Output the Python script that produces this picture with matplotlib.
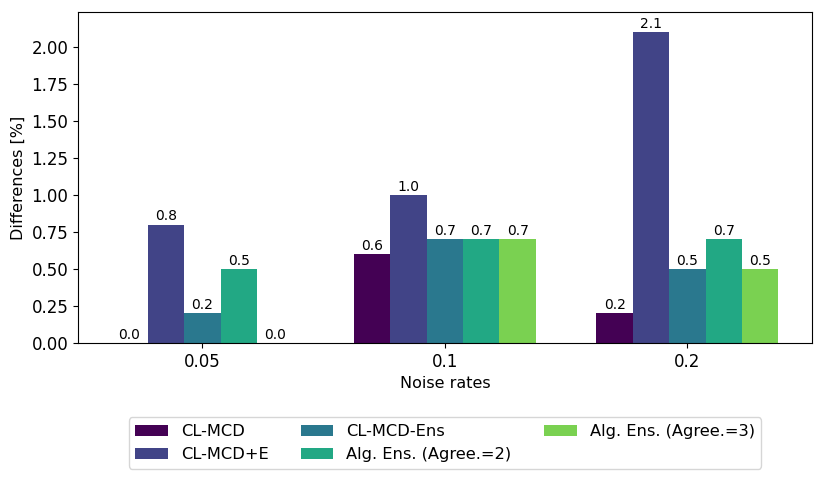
import numpy as np
import matplotlib
matplotlib.use("Agg")
import matplotlib.pyplot as plt

# 데이터
noise_rates = ["0.05", "0.1", "0.2"]
methods = ["CL-MCD", "CL-MCD+E", "CL-MCD-Ens",
           "Alg. Ens. (Agree.=2)", "Alg. Ens. (Agree.=3)"]
cl_mcd = [0.0, 0.6, 0.2]
cl_mcd_e = [0.8, 1.0, 2.1]
cl_mcd_ens = [0.2, 0.7, 0.5]
alg_ens_2 = [0.5, 0.7, 0.7]
alg_ens_3 = [0.0, 0.7, 0.5]
series = [cl_mcd, cl_mcd_e, cl_mcd_ens, alg_ens_2, alg_ens_3]

colors = ["#440154", "#414487", "#2a788e", "#22a884", "#7ad151"]

fig = plt.figure(figsize=(8.3, 4.98), dpi=100)
ax = fig.add_axes([0.094, 0.311, 0.884, 0.665])

x = np.arange(len(noise_rates))
width = 0.15
for i, (name, vals) in enumerate(zip(methods, series)):
    bars = ax.bar(x + (i - 2) * width, vals, width, label=name, color=colors[i])
    ax.bar_label(bars, labels=[f"{v:.1f}" for v in vals], fontsize=10, padding=1)

ax.set_xticks(x)
ax.set_xticklabels(noise_rates, fontsize=12)
ax.tick_params(axis="y", labelsize=12)
ax.set_ylim(0, 2.235)
ax.set_xlim(-0.5125, 2.5125)
ax.set_xlabel("Noise rates", fontsize=11.5)
ax.set_ylabel("Differences [%]", fontsize=11.5)

ax.legend(loc="upper center", bbox_to_anchor=(0.5, -0.2), ncol=3, fontsize=11.7)

fig.savefig("out.png", dpi=100)
